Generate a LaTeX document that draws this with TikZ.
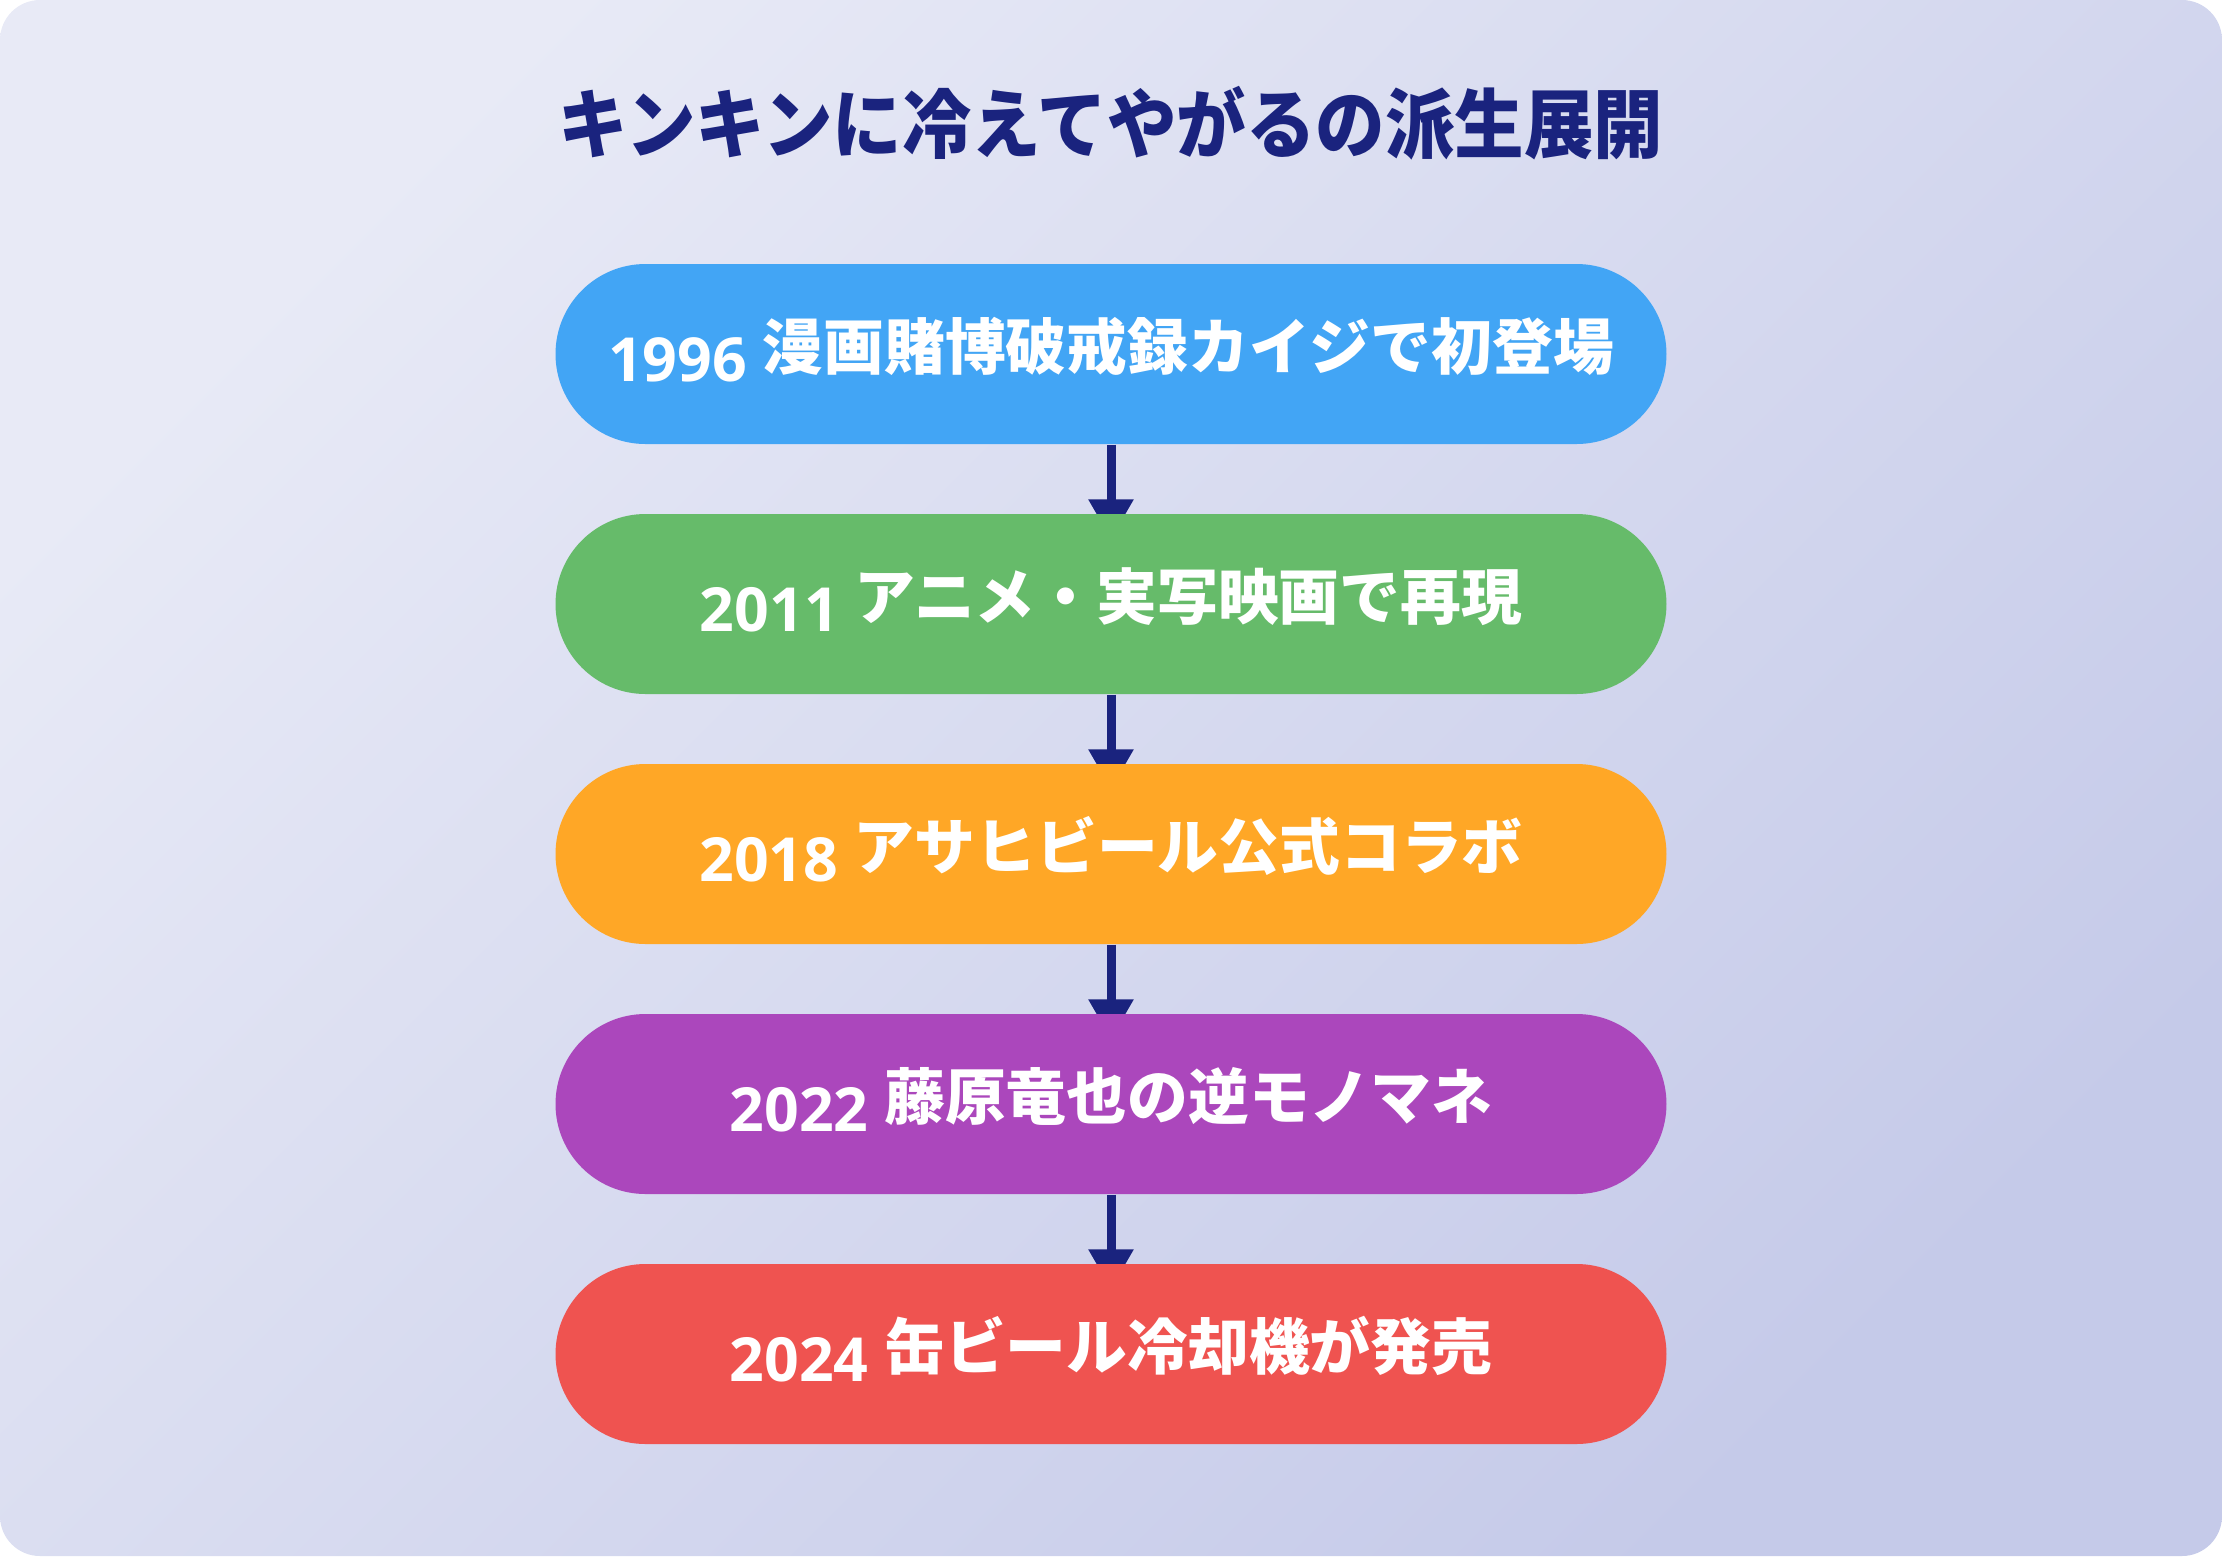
\documentclass[tikz,border=0pt]{standalone}
\usepackage{fontspec}
\setmainfont{Open Sans}
\newfontfamily\jpfont{Noto Sans CJK JP}
\newcommand\jtext[1]{\raisebox{0.12cm}{\jpfont #1}}
\usetikzlibrary{arrows.meta,backgrounds}

\definecolor{bgtop}{HTML}{E8EAF6}
\definecolor{bgbot}{HTML}{C5CAE9}
\definecolor{navy}{HTML}{1A237E}
\definecolor{kblue}{HTML}{42A5F5}
\definecolor{kgreen}{HTML}{66BB6A}
\definecolor{korange}{HTML}{FFA726}
\definecolor{kpurple}{HTML}{AB47BC}
\definecolor{kred}{HTML}{EF5350}

\begin{document}
\begin{tikzpicture}[x=0.1mm,y=-0.1mm,
	stage/.style={rounded corners=0.9cm, minimum width=11.11cm, minimum height=1.8cm, inner sep=0pt,
		text height=0.6cm, text depth=0.06cm, text=white, font=\fontsize{17.3}{20}\selectfont\bfseries},
	link/.style={navy, line width=0.09cm, -{Triangle[width=0.43cm,length=0.4cm]}}]

	\useasboundingbox (0,0) rectangle (2222,1556);

	\node[navy, anchor=base, xscale=0.92, font=\jpfont\fontsize{21.5}{24}\selectfont\bfseries] (title) at (1111,152) {キンキンに冷えてやがるの派生展開};

	\node[stage, fill=kblue] (y1996) at (1111,354) {1996 \jtext{漫画賭博破戒録カイジで初登場}};
	\node[stage, fill=kgreen] (y2011) at (1111,604) {2011 \jtext{アニメ・実写映画で再現}};
	\node[stage, fill=korange] (y2018) at (1111,854) {2018 \jtext{アサヒビール公式コラボ}};
	\node[stage, fill=kpurple] (y2022) at (1111,1104) {2022 \jtext{藤原竜也の逆モノマネ}};
	\node[stage, fill=kred] (y2024) at (1111,1354) {2024 \jtext{缶ビール冷却機が発売}};

	\begin{scope}[on background layer]
		\shade[rounded corners=0.4cm, left color=bgtop, right color=bgbot, shading angle=45] (0,0) rectangle (2222,1556);
		\draw[link] (y1996.south) -- ([yshift=-0.26cm]y2011.north);
		\draw[link] (y2011.south) -- ([yshift=-0.26cm]y2018.north);
		\draw[link] (y2018.south) -- ([yshift=-0.26cm]y2022.north);
		\draw[link] (y2022.south) -- ([yshift=-0.26cm]y2024.north);
	\end{scope}
\end{tikzpicture}
\end{document}
